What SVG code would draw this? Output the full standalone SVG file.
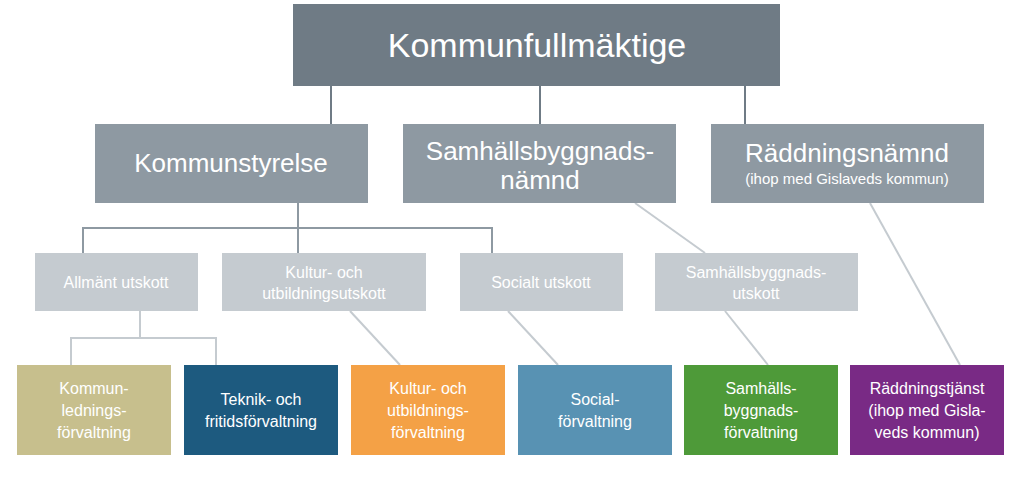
<svg xmlns="http://www.w3.org/2000/svg" width="1023" height="477" viewBox="0 0 1023 477">
<style>
text{font-family:"Liberation Sans",Arial,sans-serif;fill:#fff;text-anchor:middle}
.l1{fill:#6f7b85}.l2{fill:#8e99a2}.l3{fill:#c5cbd0}
.c line,.c polyline{stroke:#c5cbd0;stroke-width:2;fill:none}
.t1{font-size:34px}.t2{font-size:26px}.t3{font-size:16px}.t4{font-size:16px}
</style>
<rect width="1023" height="477" fill="#fff"/>
<g class="c">
<line x1="331" y1="86" x2="331" y2="124" style="stroke:#6f7b85"/>
<line x1="540" y1="86" x2="540" y2="124" style="stroke:#6f7b85"/>
<line x1="745" y1="86" x2="745" y2="124" style="stroke:#6f7b85"/>
<line x1="298" y1="203" x2="298" y2="253" style="stroke:#8e99a2"/>
<polyline points="83,253 83,228 492,228 492,253" style="stroke:#8e99a2"/>
<line x1="635" y1="203" x2="705" y2="253"/>
<line x1="870" y1="203" x2="960" y2="365"/>
<line x1="140" y1="311" x2="140" y2="338"/>
<polyline points="71,365 71,338 216,338 216,365"/>
<line x1="350" y1="311" x2="400" y2="365"/>
<line x1="508" y1="311" x2="558" y2="365"/>
<line x1="725" y1="311" x2="768" y2="365"/>
</g>
<g id="kf"><rect class="l1" x="293" y="4" width="487" height="82"/><text class="t1" x="537" y="57">Kommunfullmäktige</text></g>
<g id="ks"><rect class="l2" x="95" y="124" width="273" height="79"/><text class="t2" x="231" y="172">Kommunstyrelse</text></g>
<g id="sbn"><rect class="l2" x="403" y="124" width="273" height="79"/><text class="t2" x="540" y="160">Samhällsbyggnads-</text><text class="t2" x="540" y="189">nämnd</text></g>
<g id="rn"><rect class="l2" x="711" y="124" width="273" height="79"/><text class="t2" x="847" y="162">Räddningsnämnd</text><text x="847" y="184" style="font-size:15px">(ihop med Gislaveds kommun)</text></g>
<g id="au"><rect class="l3" x="35" y="253" width="163" height="58"/><text class="t3" x="116" y="288">Allmänt utskott</text></g>
<g id="ku"><rect class="l3" x="222" y="253" width="204" height="58"/><text class="t3" x="324" y="278">Kultur- och</text><text class="t3" x="324" y="299">utbildningsutskott</text></g>
<g id="su"><rect class="l3" x="460" y="253" width="163" height="58"/><text class="t3" x="541" y="288">Socialt utskott</text></g>
<g id="sbu"><rect class="l3" x="655" y="253" width="203" height="58"/><text class="t3" x="756" y="278">Samhällsbyggnads-</text><text class="t3" x="756" y="299">utskott</text></g>
<g id="b1"><rect fill="#c7bf8d" x="17" y="365" width="154" height="90"/><text class="t4" x="94" y="394">Kommun-</text><text class="t4" x="94" y="416">lednings-</text><text class="t4" x="94" y="438">förvaltning</text></g>
<g id="b2"><rect fill="#1d5a7f" x="184" y="365" width="154" height="90"/><text class="t4" x="261" y="405">Teknik- och</text><text class="t4" x="261" y="427">fritidsförvaltning</text></g>
<g id="b3"><rect fill="#f4a146" x="351" y="365" width="154" height="90"/><text class="t4" x="428" y="394">Kultur- och</text><text class="t4" x="428" y="416">utbildnings-</text><text class="t4" x="428" y="438">förvaltning</text></g>
<g id="b4"><rect fill="#5892b3" x="518" y="365" width="154" height="90"/><text class="t4" x="595" y="405">Social-</text><text class="t4" x="595" y="427">förvaltning</text></g>
<g id="b5"><rect fill="#4e9a39" x="684" y="365" width="154" height="90"/><text class="t4" x="761" y="394">Samhälls-</text><text class="t4" x="761" y="416">byggnads-</text><text class="t4" x="761" y="438">förvaltning</text></g>
<g id="b6"><rect fill="#792a85" x="850" y="365" width="154" height="90"/><text class="t4" x="927" y="394">Räddningstjänst</text><text class="t4" x="927" y="416">(ihop med Gisla-</text><text class="t4" x="927" y="438">veds kommun)</text></g>
</svg>
